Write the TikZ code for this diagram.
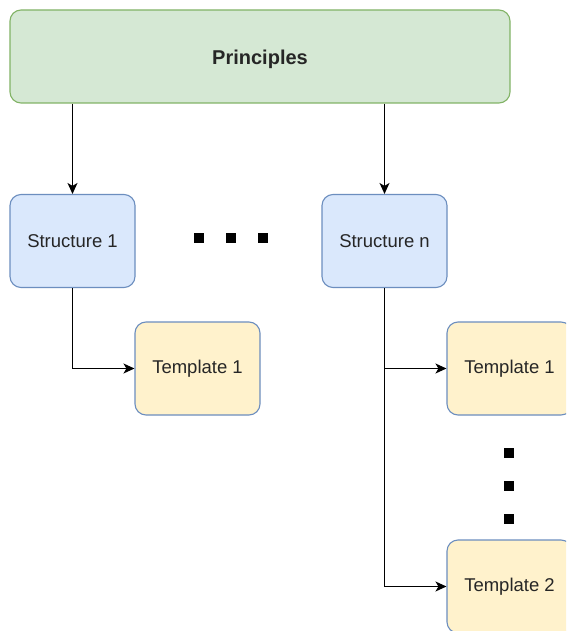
\documentclass[tikz,border=0pt]{standalone}
\usepackage{fontspec}
\setmainfont{Liberation Sans}
\usetikzlibrary{arrows.meta}
\usetikzlibrary{positioning}

\definecolor{prinfill}{HTML}{D5E8D4}
\definecolor{prindraw}{HTML}{82B366}
\definecolor{structfill}{HTML}{DAE8FC}
\definecolor{structdraw}{HTML}{6C8EBF}
\definecolor{tempfill}{HTML}{FFF2CC}

\begin{document}
\begin{tikzpicture}[x=1pt,y=-1pt,
  box/.style={rounded corners=11pt, line width=1.1pt, inner sep=0pt,
    minimum height=93pt, text=black!85, font=\fontsize{18.5}{20}\selectfont},
  principle/.style={box, draw=prindraw, fill=prinfill, minimum width=500pt,
    font=\fontsize{20}{22}\selectfont\bfseries},
  structure/.style={box, draw=structdraw, fill=structfill, minimum width=125pt},
  template/.style={box, draw=structdraw, fill=tempfill, minimum width=125pt},
  arr/.style={line width=1.3pt, -{Stealth[length=11pt,width=10pt,inset=3pt]}},
  dot/.style={fill=black, minimum size=9.5pt, inner sep=0pt}]
\clip (0,0) rectangle (566,631);
\fill[white] (0,0) rectangle (566,631);

% boxes
\node[principle] (prin) at (260,56.5) {\smash{\raisebox{-8.5pt}{Principles}}};
\node[structure] (s1) at (72.5,241) {Structure 1};
\node[structure] (sn) at (384.5,241) {Structure n};
\node[template] (t1) at (197.5,368.5) {Template 1};
\node[template] (tn1) at (509.5,368.5) {Template 1};
\node[template] (tn2) at (509.5,586.5) {Template 2};

% connectors
\draw[arr] (prin.south -| s1.north) -- (s1.north);
\draw[arr] (prin.south -| sn.north) -- (sn.north);
\draw[arr] (s1.south) |- (t1.west);
\draw[arr] (sn.south) |- (tn1.west);
\draw[arr] (sn.south) |- (tn2.west);

% dots
\foreach \x [count=\i] in {199,231,263} {
  \node[dot] (h\i) at (\x,238) {};
}
\foreach \y [count=\i] in {453,486,519} {
  \node[dot] (v\i) at (509,\y) {};
}
\end{tikzpicture}
\end{document}
